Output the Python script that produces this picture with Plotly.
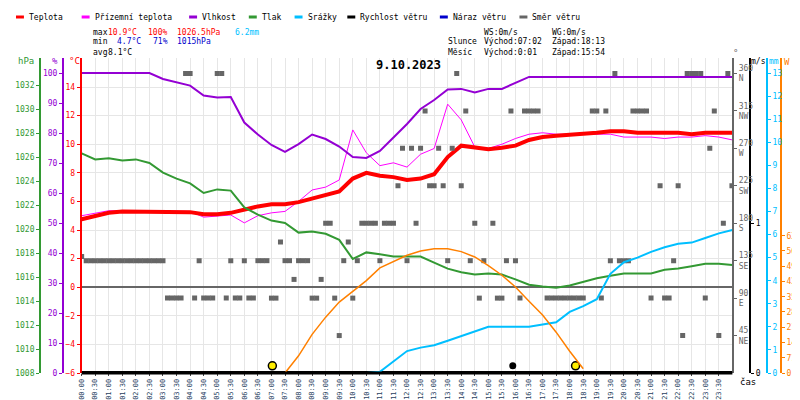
import pandas as pd
import plotly.graph_objects as go

day = "2023-10-09 "

# half-hour series 00:00 .. 24:00
times = pd.date_range(day + "00:00", periods=49, freq="30min")

temp = [4.75, 5.0, 5.2, 5.3, 5.3, 5.3, 5.3, 5.25, 5.25, 5.1, 5.1, 5.2, 5.45, 5.65, 5.8, 5.8,
        5.95, 6.2, 6.4, 6.7, 7.6, 8.0, 7.8, 7.7, 7.5, 7.6, 7.9, 9.1, 9.9, 9.8, 9.65, 9.75,
        9.9, 10.3, 10.5, 10.6, 10.65, 10.7, 10.8, 10.9, 10.9, 10.8, 10.8, 10.8, 10.8, 10.7,
        10.8, 10.8, 10.8]
feel = [5.0, 5.2, 5.35, 5.35, 5.35, 5.35, 5.35, 5.3, 5.3, 4.9, 5.0, 5.05, 4.5, 5.0, 5.2, 5.3,
        6.0, 6.8, 7.0, 7.5, 11.0, 9.4, 8.5, 8.7, 8.4, 9.3, 9.7, 12.8, 11.7, 9.8, 9.7, 10.0,
        10.4, 10.7, 10.8, 10.7, 10.7, 10.7, 10.7, 10.7, 10.5, 10.5, 10.5, 10.4, 10.5, 10.5,
        10.6, 10.5, 10.3]
humidity = [100, 100, 100, 100, 100, 100, 98, 96.8, 95.8, 92.5, 91.8, 92, 83.5, 79.5, 76, 73.7,
            76.3, 79.5, 78, 75.5, 72, 71.7, 74, 78.5, 83, 88, 91, 94.5, 94.7, 93.5, 94.7, 94.7,
            96.7, 98.7, 98.7, 98.7, 98.7, 98.7, 98.7, 98.7, 98.7, 98.7, 98.7, 98.7, 98.7, 98.7,
            98.7, 98.7, 98.7]
pressure = [1026.3, 1025.8, 1025.9, 1025.7, 1025.8, 1025.5, 1024.7, 1024.2, 1023.8, 1023.0,
            1023.3, 1023.2, 1021.8, 1021.2, 1020.7, 1020.5, 1019.7, 1019.8, 1019.6, 1019.1,
            1017.5, 1018.05, 1017.9, 1017.7, 1017.7, 1017.7, 1017.2, 1016.7, 1016.4, 1016.2,
            1016.3, 1016.2, 1015.8, 1015.35, 1015.2, 1015.1, 1015.3, 1015.6, 1015.9, 1016.1,
            1016.3, 1016.3, 1016.3, 1016.6, 1016.7, 1016.9, 1017.1, 1017.1, 1017.0]
rain = [0] * 22 + [0.05, 0.5, 0.95, 1.1, 1.2, 1.4, 1.6, 1.8, 2.0, 2.0, 2.0, 2.0, 2.1, 2.2, 2.65,
                  2.9, 3.2, 4.3, 4.8, 5.0, 5.25, 5.45, 5.6, 5.65, 5.85, 6.05, 6.2]
solar = [None] * 15 + [0, 80, 180, 260, 330, 380, 430, 489, 520, 548, 568, 578, 578, 565, 540,
                       500, 455, 400, 334, 270, 190, 101, 20] + [None] * 11
wind = [0] * 49
gust = [0] * 49

dir_time = ["00:00", "00:10", "00:20", "00:30", "00:40", "00:50", "01:00", "01:10", "01:20", "01:30",
            "01:40", "01:50", "02:00", "02:10", "02:20", "02:30", "02:40", "02:50", "03:00", "03:10",
            "03:20", "03:30", "03:40", "03:50", "04:00", "04:10", "04:20", "04:30", "04:40", "04:50",
            "05:00", "05:10", "05:20", "05:30", "05:40", "05:50", "06:00", "06:10", "06:20", "06:30",
            "06:40", "06:50", "07:00", "07:10", "07:20", "07:30", "07:40", "07:50", "08:00", "08:10",
            "08:20", "08:30", "08:40", "08:50", "09:00", "09:10", "09:20", "09:30", "09:40", "09:50",
            "10:00", "10:10", "10:20", "10:30", "10:40", "10:50", "11:00", "11:10", "11:20", "11:30",
            "11:40", "11:50", "12:00", "12:10", "12:20", "12:30", "12:40", "12:50", "13:00", "13:10",
            "13:20", "13:30", "13:40", "13:50", "14:00", "14:10", "14:20", "14:30", "14:40", "14:50",
            "15:10", "15:20", "15:30", "15:40", "15:50", "16:00", "16:10", "16:20", "16:30", "16:40",
            "16:50", "17:10", "17:20", "17:30", "17:40", "17:50", "18:00", "18:10", "18:20", "18:30",
            "18:50", "19:00", "19:10", "19:20", "19:30", "19:40", "19:50", "20:00", "20:10", "20:20",
            "20:30", "20:40", "20:50", "21:00", "21:20", "21:30", "21:40", "21:50", "22:00", "22:10",
            "22:20", "22:30", "22:40", "22:50", "23:00", "23:10", "23:20", "23:30", "23:40", "23:50",
            "23:59"]
dir_deg = [140, 135, 135, 135, 135, 135, 135, 135, 135, 135,
           135, 135, 135, 135, 135, 135, 135, 135, 135, 90,
           90, 90, 90, 360, 360, 90, 135, 90, 90, 90,
           360, 360, 90, 135, 90, 90, 135, 90, 90, 135,
           135, 135, 90, 90, 157.5, 135, 135, 112.5, 135, 135,
           135, 90, 90, 112.5, 180, 180, 90, 45, 135, 157.5,
           90, 135, 180, 180, 180, 180, 135, 180, 180, 180,
           225, 270, 135, 270, 180, 270, 315, 225, 225, 270,
           225, 135, 270, 360, 225, 315, 135, 180, 90, 135,
           180, 90, 90, 135, 315, 135, 90, 315, 315, 315,
           315, 90, 90, 90, 90, 90, 90, 90, 90, 90,
           315, 315, 90, 315, 135, 360, 135, 135, 135, 315,
           315, 315, 315, 90, 225, 90, 90, 135, 225, 45,
           360, 360, 360, 360, 90, 270, 315, 45, 180, 360,
           225]

sun_times = ["07:02", "18:13"]
moon_times = ["15:54"]

temp_ticks = list(range(-6, 15, 2))
hpa_ticks = list(range(1008, 1033, 2))
pct_ticks = list(range(0, 101, 10))
deg_ticks = [45, 90, 135, 180, 225, 270, 315, 360]
deg_text = ["45<br>NE", "90<br>E", "135<br>SE", "180<br>S", "225<br>SW", "270<br>W", "315<br>NW", "360<br>N"]
mm_ticks = list(range(0, 14))
w_ticks = [0, 71, 142, 213, 284, 355, 426, 497, 568, 639]

RED, MAG, PUR, GRN, CYA, ORA, GRY = "#ff0000", "#ff00ff", "#9400d3", "#339933", "#00bfff", "#ff8000", "#666666"
FONT = "DejaVu Sans Mono"

fig = go.Figure()
dir_x = [day + t for t in dir_time]
fig.add_trace(go.Scatter(x=dir_x, y=dir_deg, yaxis="y4", mode="markers",
                         marker=dict(symbol="square", size=5, color=GRY)))
fig.add_trace(go.Scatter(x=times, y=solar, yaxis="y7", mode="lines", line=dict(color=ORA, width=1.5)))
fig.add_trace(go.Scatter(x=times, y=rain, yaxis="y6", mode="lines", line=dict(color=CYA, width=2)))
fig.add_trace(go.Scatter(x=times, y=pressure, yaxis="y3", mode="lines", line=dict(color=GRN, width=2)))
fig.add_trace(go.Scatter(x=times, y=humidity, yaxis="y2", mode="lines", line=dict(color=PUR, width=2)))
fig.add_trace(go.Scatter(x=times, y=gust, yaxis="y5", mode="lines", line=dict(color="#0000cc", width=4)))
fig.add_trace(go.Scatter(x=times, y=wind, yaxis="y5", mode="lines", line=dict(color="black", width=4)))
fig.add_trace(go.Scatter(x=times, y=feel, mode="lines", line=dict(color=MAG, width=1)))
fig.add_trace(go.Scatter(x=times, y=temp, mode="lines", line=dict(color=RED, width=4)))
fig.add_trace(go.Scatter(x=[day + t for t in sun_times], y=[-5.5] * len(sun_times), mode="markers",
                         marker=dict(size=8, color="#ffee00", line=dict(color="black", width=1.5))))
fig.add_trace(go.Scatter(x=[day + t for t in moon_times], y=[-5.5] * len(moon_times), mode="markers",
                         marker=dict(size=7, color="black")))


def yax(rng, col, pos=None, side="left", **kw):
    d = dict(range=rng, overlaying="y", side=side, tickfont=dict(family=FONT, size=8, color=col),
             showline=True, linecolor=col, linewidth=1.5, ticks="outside", ticklen=3, tickcolor=col,
             showgrid=False, zeroline=False)
    if pos is None:
        d["anchor"] = "x"
    else:
        d["anchor"] = "free"
        d["position"] = pos
    d.update(kw)
    return d


fig.update_layout(
    width=800, height=400, showlegend=False,
    margin=dict(l=0, r=0, t=50, b=35),
    plot_bgcolor="white", paper_bgcolor="white",
    font=dict(family=FONT, size=8),
    xaxis=dict(domain=[70 / 800, 724 / 800], type="date",
               range=[day + "00:00", "2023-10-10 00:00"],
               tickvals=pd.date_range(day + "00:00", periods=48, freq="30min"),
               tickformat="%H:%M", tickangle=-90, tickfont=dict(family=FONT, size=7),
               showgrid=True, gridcolor="#e6e6e6", showline=False, ticks="outside", ticklen=2),
    yaxis=dict(range=[-6, 16.03], tickvals=temp_ticks, tickfont=dict(family=FONT, size=8, color=RED),
               showline=True, linecolor=RED, linewidth=2, ticks="outside", ticklen=3, tickcolor=RED,
               showgrid=True, gridcolor="#e6e6e6", zeroline=True, zerolinecolor=GRY, zerolinewidth=1.5),
    yaxis2=yax([0, 105], PUR, 51 / 800, tickvals=pct_ticks),
    yaxis3=yax([1008, 1034.25], GRN, 28 / 800, tickvals=hpa_ticks),
    yaxis4=yax([0, 378.6], GRY, None, "right", tickvals=deg_ticks, ticktext=deg_text),
    yaxis5=yax([0, 2.1], "black", 742 / 800, "right", tickvals=[0, 1]),
    yaxis6=yax([0, 13.65], CYA, 759 / 800, "right", tickvals=mm_ticks),
    yaxis7=yax([0, 1466], ORA, 773 / 800, "right", tickvals=w_ticks),
)

# bottom black axis line
fig.add_shape(type="line", xref="x domain", yref="paper", x0=0, x1=1, y0=0, y1=0,
              line=dict(color="black", width=3))


def txt(px, py, s, color="black", size=8, anchor="left", bold=False):
    if bold:
        s = "<b>" + s + "</b>"
    fig.add_annotation(x=px / 800, y=(365 - py) / 315, xref="paper", yref="paper", text=s,
                       showarrow=False, xanchor=anchor, yanchor="middle",
                       font=dict(family=FONT, size=size, color=color))


legend = [(4, "Teplota", RED), (70, "Přízemní teplota", MAG), (178, "Vlhkost", PUR),
          (238, "Tlak", GRN), (284, "Srážky", CYA), (337, "Rychlost větru", "black"),
          (430, "Náraz větru", "#0000cc"), (510, "Směr větru", GRY)]
for px, name, col in legend:
    fig.add_shape(type="line", xref="paper", yref="paper", x0=px / 800, x1=(px + 8) / 800,
                  y0=(365 - 9) / 315, y1=(365 - 9) / 315, line=dict(color=col, width=3))
    txt(px + 11, 9, name)

txt(79, 24, "max")
txt(94, 24, "10.9°C", RED)
txt(135, 24, "100%", RED)
txt(164, 24, "1026.5hPa", RED)
txt(222, 24, "6.2mm", CYA)
txt(79, 34, "min")
txt(104, 34, "4.7°C", "#0000cc")
txt(140, 34, "71%", "#0000cc")
txt(164, 34, "1015hPa", "#0000cc")
txt(79, 44, "avg")
txt(94, 44, "8.1°C")
txt(472, 24, "WS:0m/s")
txt(541, 24, "WG:0m/s")
txt(436, 34, "Slunce")
txt(472, 34, "Východ:07:02")
txt(541, 34, "Západ:18:13")
txt(436, 44, "Měsíc")
txt(472, 44, "Východ:0:01")
txt(541, 44, "Západ:15:54")
txt(398, 57, "9.10.2023", size=12, anchor="center", bold=True)

txt(14, 53, "hPa", GRN, 9, "center")
txt(43, 53, "%", PUR, 9, "center")
txt(63, 53, "°C", RED, 9, "center")
txt(727, 45, "°", GRY, 9, "center")
txt(750, 54, "m/s", "black", 8, "center")
txt(766, 54, "mm", CYA, 8, "center")
txt(779, 54, "W", ORA, 9, "center")
txt(740, 374, "čas", "black", 9, "center")

fig.write_html("out.html")
